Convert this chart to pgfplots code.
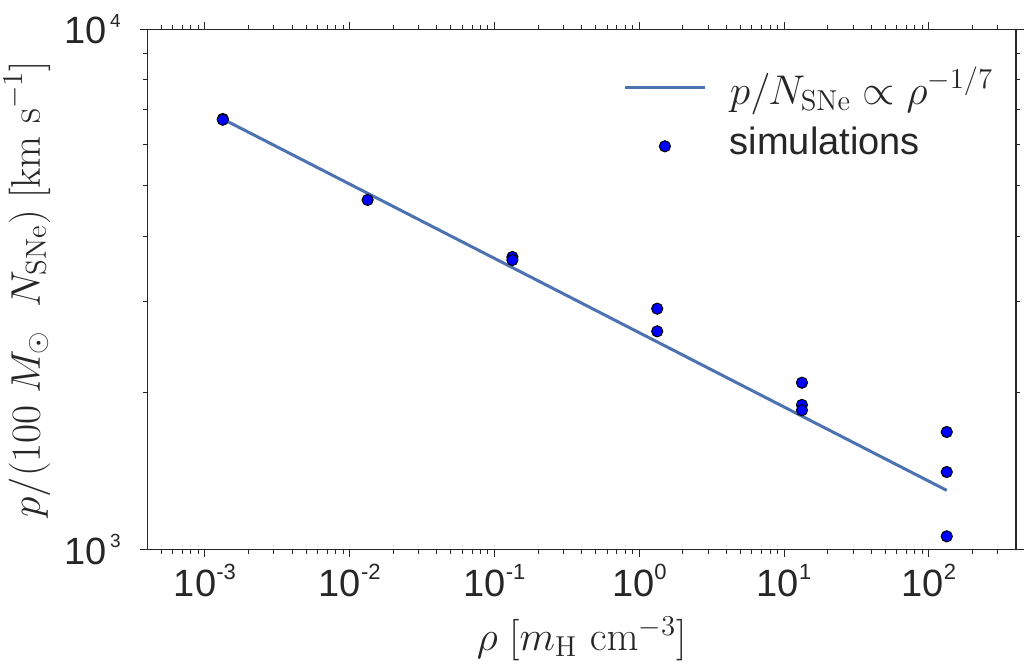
\documentclass[border=0pt]{standalone}
\usepackage[no-math]{fontspec}
\setmainfont{Liberation Sans}
\usepackage{pgfplots}
\pgfplotsset{compat=1.18}
\definecolor{sbblue}{HTML}{4C72B0}
\definecolor{axgray}{HTML}{262626}
\newcommand{\xtl}[1]{\mbox{\fontsize{19}{22}\selectfont 10\raisebox{8.8pt}{\fontsize{11}{11}\selectfont #1}}}
\newcommand{\ytl}[1]{\mbox{\fontsize{19}{22}\selectfont 10\hspace{1.5pt}\raisebox{8.3pt}{\fontsize{9.5}{9.5}\selectfont #1}}}
\pgfplotsset{
  linelegend/.style={legend image code/.code={\draw[##1] (0pt,0pt) -- (40pt,0pt); \path[draw=none,fill=none] (0pt,0pt) -- (52.5pt,0pt);}},
  marklegend/.style={legend image code/.code={\draw[##1,only marks] plot coordinates {(20pt,-2pt)}; \path[draw=none,fill=none] (0pt,0pt) -- (52.5pt,0pt);}},
}

\begin{document}
\begin{tikzpicture}
\begin{axis}[
  scale only axis, width=434.35pt, height=260pt,
  at={(0,0)}, anchor=south west,
  xmode=log, ymode=log,
  xmin=4e-4, xmax=4e2, ymin=1e3, ymax=1e4,
  axis line style={axgray, line width=0.6pt},
  tick align=outside,
  major tick length=3.8pt, minor tick length=2.2pt,
  every tick/.style={axgray, line width=0.5pt},
  xtick={1e-3,1e-2,1e-1,1,10,100},
  xticklabels={\xtl{-3},\xtl{-2},\xtl{-1},\xtl{0},\xtl{1},\xtl{2}},
  minor xtick={5e-4,6e-4,7e-4,8e-4,9e-4,
    2e-3,3e-3,4e-3,5e-3,6e-3,7e-3,8e-3,9e-3,
    2e-2,3e-2,4e-2,5e-2,6e-2,7e-2,8e-2,9e-2,
    2e-1,3e-1,4e-1,5e-1,6e-1,7e-1,8e-1,9e-1,
    2,3,4,5,6,7,8,9,
    20,30,40,50,60,70,80,90,
    200,300},
  ytick={1e3,1e4},
  yticklabels={\ytl{3},\ytl{4}},
  minor ytick={2000,3000,4000,5000,6000,7000,8000,9000},
  ticklabel style={text=axgray},
  yticklabel style={xshift=-6pt},
  xlabel={$\rho\;[m_{\mathrm{H}}\ \mathrm{cm}^{-3}]$},
  ylabel={$p/(100\;M_\odot\;\;N_{\mathrm{SNe}})\;[\mathrm{km\ s}^{-1}]$},
  xlabel shift=3pt, ylabel shift=3.8pt,
  ylabel style={inner ysep=0pt},
  label style={font=\fontsize{22.5}{25}\selectfont, text=axgray},
  legend style={draw=none, fill=none, at={(0.5476,0.9275)}, anchor=north west,
    font=\fontsize{19}{22}\selectfont, text=axgray, inner sep=0pt,
    nodes={inner sep=0pt}, row sep=10pt},
  legend cell align=left,
]
\addplot[sbblue, line width=1.5pt, linelegend]
  coordinates {(1.33e-3,6720) (1.33e-2,4837) (1.33e-1,3481) (1.33,2505) (13.3,1803) (133,1298)};
\addlegendentry{\fontsize{20.4}{23}\selectfont$p/N_{\mathrm{SNe}}\propto\rho^{-1/7}$}
\addplot[only marks, mark=*, mark size=2.8pt, mark options={fill=blue, draw=black, line width=0.5pt}, marklegend]
  coordinates {
  (1.33e-3,6722) (1.33e-3,6700)
  (1.33e-2,4697)
  (1.33e-1,3648) (1.33e-1,3600)
  (1.33,2902) (1.33,2625)
  (13.3,2091) (13.3,1895) (13.3,1851)
  (133,1681) (133,1408) (133,1059)
  };
\addlegendentry{simulations}
\end{axis}
\pgfresetboundingbox
\path (-73.65pt,-59.35pt) rectangle (438.85pt,274.65pt);
\end{tikzpicture}
\end{document}
